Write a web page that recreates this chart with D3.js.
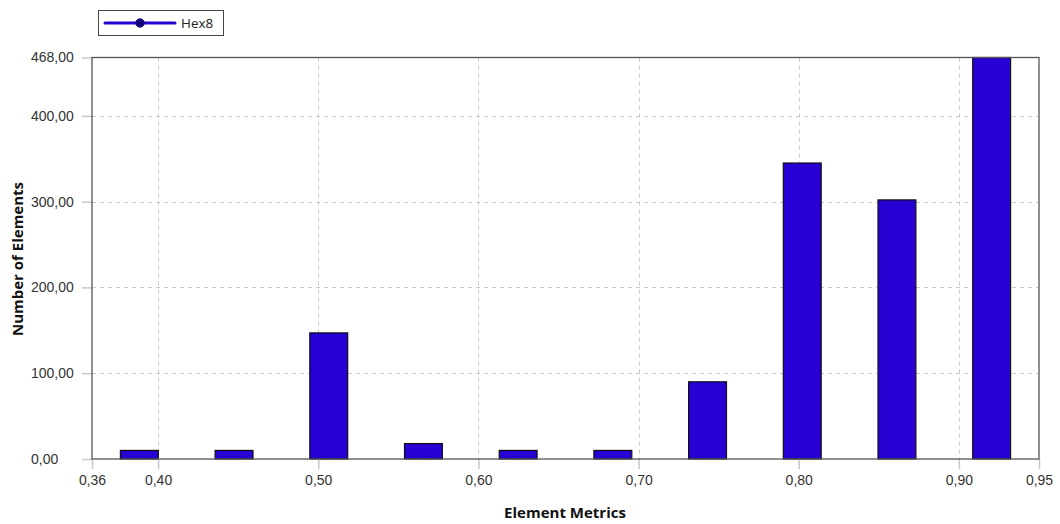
<!DOCTYPE html>
<html>
<head>
<meta charset="utf-8">
<script src="https://cdn.jsdelivr.net/npm/d3@7/dist/d3.min.js"></script>
<style>
  html, body { margin: 0; padding: 0; background: #fff; }
  svg { display: block; font-family: "Open Sans", "Noto Sans", sans-serif; }
</style>
</head>
<body>
<svg id="chart" width="1060" height="524"></svg>
<script>
// Histogram of element quality metric for the Hex8 mesh
const binCount = 10;
const metricMin = 0.35875;
const metricMax = 0.95;
const counts = [10, 10, 147, 18, 10, 10, 90, 345, 302, 468];
const xTickValues = [metricMin, 0.40, 0.50, 0.60, 0.70, 0.80, 0.90, 0.95];
const yTickValues = [0, 100, 200, 300, 400, 468];
const seriesName = "Hex8";

const margin = { left: 92, top: 57.5, right: 21, bottom: 65 };
const W = 1060, H = 524;
const svg = d3.select("#chart");

const x = d3.scaleLinear().domain([metricMin, metricMax]).range([margin.left, W - margin.right]);
const y = d3.scaleLinear().domain([0, 468]).range([H - margin.bottom, margin.top]);

const fmt = v => d3.format(".2f")(v).replace(".", ",");
const binW = (metricMax - metricMin) / binCount;
const bins = counts.map((c, i) => ({ x0: metricMin + i * binW, x1: metricMin + (i + 1) * binW, count: c }));

const gridColor = "#c8c8c8";

// grid lines
svg.append("g")
  .selectAll("line")
  .data(xTickValues.slice(1, -1))
  .join("line")
  .attr("x1", d => Math.round(x(d)) + 0.5).attr("x2", d => Math.round(x(d)) + 0.5)
  .attr("y1", y(468)).attr("y2", y(0))
  .attr("stroke", gridColor).attr("stroke-dasharray", "4,4");

svg.append("g")
  .selectAll("line")
  .data(yTickValues.slice(1, -1))
  .join("line")
  .attr("y1", d => Math.round(y(d)) + 0.5).attr("y2", d => Math.round(y(d)) + 0.5)
  .attr("x1", x(metricMin)).attr("x2", x(metricMax))
  .attr("stroke", gridColor).attr("stroke-dasharray", "4,4");

// bars (40% of bin width, centred in each bin)
svg.append("g")
  .selectAll("rect")
  .data(bins)
  .join("rect")
  .attr("x", d => x((d.x0 + d.x1) / 2) - (x(d.x1) - x(d.x0)) * 0.2)
  .attr("width", d => (x(d.x1) - x(d.x0)) * 0.4)
  .attr("y", d => y(d.count))
  .attr("height", d => y(0) - y(d.count))
  .attr("fill", "#2800d4")
  .attr("stroke", "#111")
  .attr("stroke-width", 1.2);

// axes
const xAxis = d3.axisBottom(x).tickValues(xTickValues).tickFormat(fmt).tickSize(10).tickPadding(6);
const yAxis = d3.axisLeft(y).tickValues(yTickValues).tickFormat(fmt).tickSize(10).tickPadding(5);

const gx = svg.append("g").attr("transform", `translate(0,${y(0)})`).call(xAxis);
const gy = svg.append("g").attr("transform", `translate(${x(metricMin)},0)`).call(yAxis);
[gx, gy].forEach(g => {
  g.select(".domain").remove();
  g.selectAll(".tick line").attr("stroke", "#c8c8c8").attr("stroke-width", 1.5);
  g.selectAll(".tick text").attr("fill", "#333").style("font-size", "14px");
});
// y labels are left-aligned in a fixed column
gy.selectAll(".tick text").attr("text-anchor", "start").attr("x", 31 - x(metricMin));

// plot frame
svg.append("rect")
  .attr("x", x(metricMin)).attr("y", y(468))
  .attr("width", x(metricMax) - x(metricMin)).attr("height", y(0) - y(468))
  .attr("fill", "none").attr("stroke", "#555").attr("stroke-width", 1.3);

// axis titles
svg.append("text")
  .attr("x", 565).attr("y", 518)
  .attr("text-anchor", "middle").attr("font-weight", "bold").attr("font-size", "15px")
  .attr("fill", "#111").text("Element Metrics");

svg.append("text")
  .attr("transform", `translate(23,259) rotate(-90)`)
  .attr("text-anchor", "middle").attr("font-weight", "bold").attr("font-size", "15px")
  .attr("fill", "#111").text("Number of Elements");

// legend
const lg = svg.append("g").attr("transform", "translate(98,10)");
lg.append("rect").attr("x", 0.5).attr("y", 0.5).attr("width", 125).attr("height", 25)
  .attr("fill", "#fff").attr("stroke", "#444").attr("stroke-width", 1);
lg.append("line").attr("x1", 7).attr("x2", 77).attr("y1", 13).attr("y2", 13)
  .attr("stroke", "#2800d4").attr("stroke-width", 3).attr("stroke-linecap", "round");
lg.append("circle").attr("cx", 42).attr("cy", 13).attr("r", 4.2)
  .attr("fill", "#12007a").attr("stroke", "#12007a");
lg.append("text").attr("x", 83).attr("y", 18).attr("font-size", "13.5px")
  .attr("fill", "#222").text(seriesName);
</script>
</body>
</html>
